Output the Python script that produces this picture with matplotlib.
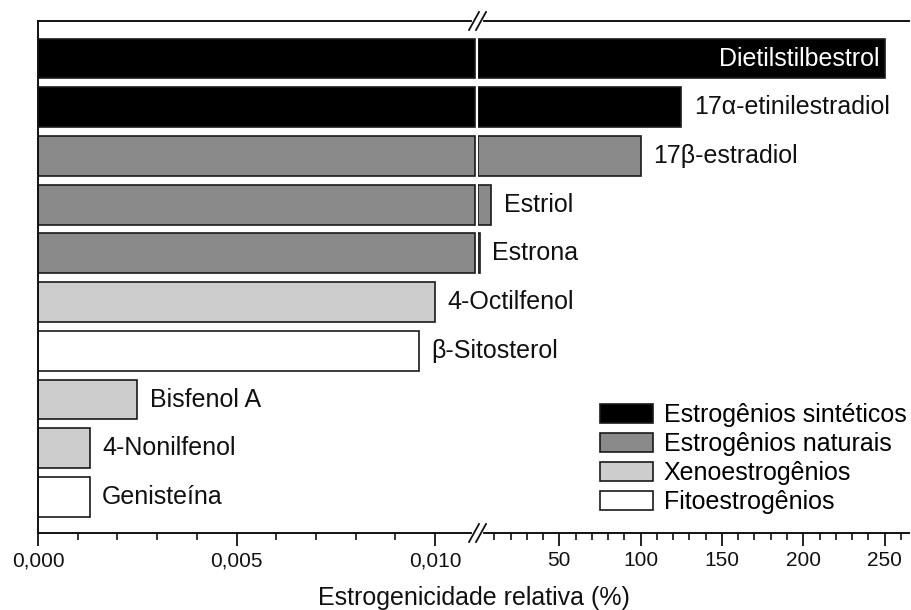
import numpy as np
import matplotlib
matplotlib.use('Agg')
import matplotlib.pyplot as plt
from matplotlib.patches import Patch
from matplotlib.lines import Line2D

plt.rcParams['font.family'] = ['Liberation Sans', 'DejaVu Sans']

# ---- data (relative estrogenicity, %) ----
compounds = ['Dietilstilbestrol', '17\u03b1-etinilestradiol', '17\u03b2-estradiol',
             'Estriol', 'Estrona', '4-Octilfenol', '\u03b2-Sitosterol',
             'Bisfenol A', '4-Nonilfenol', 'Genisteína']
values = [250, 125, 100, 8.0, 1.0, 0.0100, 0.0096, 0.0025, 0.0013, 0.0013]
groups = [0, 0, 1, 1, 1, 2, 3, 2, 2, 3]

group_names = ['Estrogênios sintéticos', 'Estrogênios naturais',
               'Xenoestrogênios', 'Fitoestrogênios']
group_colors = ['#000000', '#8a8a8a', '#cdcdcd', '#ffffff']

left_ticks = [0.0, 0.005, 0.010]
left_tick_labels = ['0,000', '0,005', '0,010']
right_ticks = [50, 100, 150, 200, 250]

LEFT_LIM = 0.01108   # left segment ends at the break
LEFT_CAP = 0.0110    # bars crossing the break stop here (white gap)
RIGHT_LIM = 265
EDGE = '#1a1a1a'

W, H = 911, 610
fig = plt.figure(figsize=(W / 100, H / 100), dpi=100)


def box(x0, y0, x1, y1):
    return [x0 / W, 1 - y1 / H, (x1 - x0) / W, (y1 - y0) / H]


XB = 478
axL = fig.add_axes(box(38, 21, XB, 533))
axR = fig.add_axes(box(XB, 21, 909, 533))
axR.patch.set_visible(False)

vals = np.array(values)
y = np.arange(len(compounds))
cols = [group_colors[g] for g in groups]
cross = vals > LEFT_LIM

axL.barh(y, np.minimum(vals, LEFT_CAP), height=0.82, color=cols,
         edgecolor=EDGE, linewidth=1.2)
axR.barh(y[cross], vals[cross], height=0.82,
         color=[c for c, m in zip(cols, cross) if m],
         edgecolor=EDGE, linewidth=1.2)

for i, (name, v) in enumerate(zip(compounds, values)):
    ax = axR if cross[i] else axL
    if v >= 200:
        ax.annotate(name, (v, i), xytext=(-4, 0), textcoords='offset points',
                    ha='right', va='center', fontsize=18, color='white',
                    annotation_clip=False, zorder=5)
    else:
        ax.annotate(name, (v, i), xytext=(9, 0), textcoords='offset points',
                    ha='left', va='center', fontsize=18, color='#111111',
                    annotation_clip=False, clip_on=False, zorder=5)

for ax in (axL, axR):
    ax.set_ylim(9.74, -0.77)
    ax.set_yticks([])
    ax.spines['right'].set_visible(False)
    for s in ax.spines.values():
        s.set_linewidth(1.4)
        s.set_color('#111111')
    ax.tick_params(axis='x', which='major', direction='out', length=9,
                   width=1.3, labelsize=15, pad=4, colors='#111111')
    ax.tick_params(axis='x', which='minor', direction='out', length=5,
                   width=1.2, colors='#111111')
axR.spines['left'].set_visible(False)

axL.set_xlim(0, LEFT_LIM)
axL.set_xticks(left_ticks)
axL.set_xticklabels(left_tick_labels)
axL.set_xticks(np.arange(1, 10) * 0.001, minor=True)

axR.set_xlim(0, RIGHT_LIM)
axR.set_xticks(right_ticks)
axR.set_xticks(np.arange(10, 261, 10), minor=True)

# axis break marks on top and bottom spines
for yb in (21, 533):
    fig.add_artist(Line2D([(XB - 4) / W, (XB + 3) / W], [1 - yb / H] * 2,
                          transform=fig.transFigure, color='white', lw=3,
                          zorder=10))
    for dx in (-4, 3):
        fig.add_artist(Line2D([(XB + dx - 5) / W, (XB + dx + 5) / W],
                              [1 - (yb + 9) / H, 1 - (yb - 9) / H],
                              transform=fig.transFigure, color='#111111',
                              lw=1.3, zorder=11))

handles = [Patch(facecolor=c, edgecolor=EDGE, linewidth=1.2) for c in group_colors]
fig.legend(handles, group_names, loc='upper left',
           bbox_to_anchor=(600 / W, 1 - 403 / H), frameon=False, fontsize=18,
           handlelength=2.1, handleheight=0.8, handletextpad=0.45,
           labelspacing=0.2, borderpad=0, borderaxespad=0)

fig.text(474 / W, 1 - 605 / H, 'Estrogenicidade relativa (%)', ha='center',
         va='baseline', fontsize=18, color='#111111')

fig.savefig('out.png', dpi=100)
